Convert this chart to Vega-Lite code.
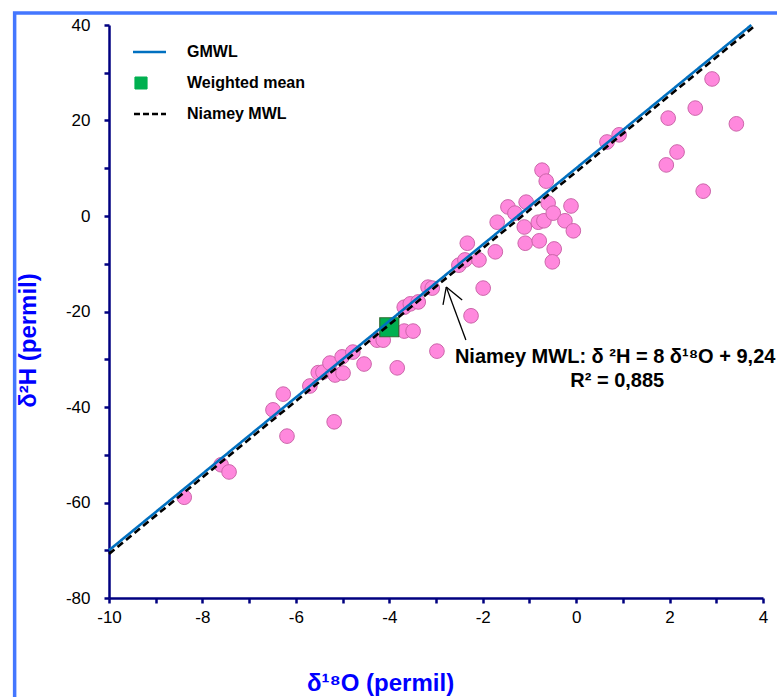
{
  "$schema": "https://vega.github.io/schema/vega-lite/v6.json",
  "width": 654,
  "height": 573,
  "autosize": {"type": "none"},
  "padding": {"left": 109, "top": 25, "right": 14, "bottom": 99},
  "background": "white",
  "config": {
    "view": {"stroke": null},
    "font": "Liberation Sans",
    "axis": {
      "grid": false,
      "domainColor": "#000080",
      "domainWidth": 2.5,
      "tickColor": "#000080",
      "tickWidth": 2.5,
      "tickSize": 5,
      "labelColor": "#000000",
      "labelFont": "Liberation Sans",
      "labelFontSize": 17,
      "labelFontWeight": "normal",
      "titleColor": "#0000FF",
      "titleFont": "Liberation Sans",
      "titleFontWeight": "bold",
      "titleFontSize": 24
    }
  },
  "datasets": {
    "samples": [
      {"d18O": -8.39, "d2H": -58.9},
      {"d18O": -7.60, "d2H": -52.1},
      {"d18O": -7.43, "d2H": -53.6},
      {"d18O": -6.49, "d2H": -40.6},
      {"d18O": -6.27, "d2H": -37.3},
      {"d18O": -6.19, "d2H": -46.1},
      {"d18O": -5.18, "d2H": -43.1},
      {"d18O": -5.70, "d2H": -35.6},
      {"d18O": -5.52, "d2H": -32.8},
      {"d18O": -5.42, "d2H": -32.7},
      {"d18O": -5.27, "d2H": -30.8},
      {"d18O": -5.16, "d2H": -33.3},
      {"d18O": -4.99, "d2H": -32.9},
      {"d18O": -5.01, "d2H": -29.5},
      {"d18O": -4.78, "d2H": -28.5},
      {"d18O": -4.54, "d2H": -31.0},
      {"d18O": -4.26, "d2H": -26.0},
      {"d18O": -4.13, "d2H": -26.0},
      {"d18O": -3.83, "d2H": -31.8},
      {"d18O": -3.68, "d2H": -24.1},
      {"d18O": -3.49, "d2H": -24.1},
      {"d18O": -3.68, "d2H": -19.1},
      {"d18O": -3.55, "d2H": -18.4},
      {"d18O": -3.38, "d2H": -18.0},
      {"d18O": -3.17, "d2H": -14.9},
      {"d18O": -3.08, "d2H": -15.1},
      {"d18O": -2.98, "d2H": -28.3},
      {"d18O": -2.51, "d2H": -10.3},
      {"d18O": -2.38, "d2H": -9.2},
      {"d18O": -2.33, "d2H": -5.7},
      {"d18O": -2.08, "d2H": -9.2},
      {"d18O": -1.99, "d2H": -15.1},
      {"d18O": -2.25, "d2H": -20.9},
      {"d18O": -1.73, "d2H": -7.5},
      {"d18O": -1.69, "d2H": -1.3},
      {"d18O": -1.46, "d2H": 1.9},
      {"d18O": -1.31, "d2H": 0.6},
      {"d18O": -1.07, "d2H": 2.9},
      {"d18O": -1.11, "d2H": -2.3},
      {"d18O": -1.09, "d2H": -5.7},
      {"d18O": -0.81, "d2H": -1.3},
      {"d18O": -0.69, "d2H": -1.0},
      {"d18O": -0.79, "d2H": -5.2},
      {"d18O": -0.73, "d2H": 9.6},
      {"d18O": -0.64, "d2H": 7.3},
      {"d18O": -0.60, "d2H": 2.7},
      {"d18O": -0.49, "d2H": 0.6},
      {"d18O": -0.47, "d2H": -6.9},
      {"d18O": -0.51, "d2H": -9.6},
      {"d18O": -0.24, "d2H": -1.0},
      {"d18O": -0.11, "d2H": 2.1},
      {"d18O": -0.06, "d2H": -3.1},
      {"d18O": 0.66, "d2H": 15.5},
      {"d18O": 0.92, "d2H": 17.0},
      {"d18O": 1.97, "d2H": 20.5},
      {"d18O": 2.55, "d2H": 22.6},
      {"d18O": 2.91, "d2H": 28.7},
      {"d18O": 3.43, "d2H": 19.3},
      {"d18O": 2.16, "d2H": 13.4},
      {"d18O": 1.93, "d2H": 10.7},
      {"d18O": 2.72, "d2H": 5.2}
    ],
    "mean": [
      {"series": "Weighted mean", "d18O": -4.0, "d2H": -23.3}
    ],
    "lines": [
      {"series": "GMWL", "d18O": -10, "d2H": -70},
      {"series": "GMWL", "d18O": 3.75, "d2H": 40},
      {"series": "Niamey MWL", "d18O": -10, "d2H": -70.76},
      {"series": "Niamey MWL", "d18O": 3.845, "d2H": 40}
    ],
    "one": [{}]
  },
  "layer": [
    {
      "data": {"name": "one"},
      "mark": {"type": "rect", "fill": null, "stroke": "#4477FF", "strokeWidth": 3.5, "clip": false},
      "encoding": {
        "x": {"datum": -12.02, "type": "quantitative"},
        "x2": {"datum": 9},
        "y": {"datum": 42.5, "type": "quantitative"},
        "y2": {"datum": -130}
      }
    },
    {
      "data": {"name": "samples"},
      "mark": {"type": "circle", "size": 215, "fill": "#FF88DD", "stroke": "#CC66AA", "strokeWidth": 1, "opacity": 1},
      "encoding": {
        "x": {
          "field": "d18O", "type": "quantitative",
          "scale": {"domain": [-10, 4], "nice": false, "zero": false},
          "axis": {
            "title": "δ¹⁸O (permil)",
            "values": [-10, -9, -8, -7, -6, -5, -4, -3, -2, -1, 0, 1, 2, 3, 4],
            "labelExpr": "datum.value % 2 === 0 ? '' + datum.value : ''",
            "labelFlush": false,
            "labelOverlap": false,
            "labelPadding": 6,
            "titleX": 271,
            "titleY": 85,
            "titleBaseline": "middle"
          }
        },
        "y": {
          "field": "d2H", "type": "quantitative",
          "scale": {"domain": [-80, 40], "nice": false, "zero": false},
          "axis": {
            "title": "δ²H (permil)",
            "values": [-80, -70, -60, -50, -40, -30, -20, -10, 0, 10, 20, 30, 40],
            "labelExpr": "datum.value % 20 === 0 ? '' + datum.value : ''",
            "labelOverlap": false,
            "labelFlush": false,
            "labelPadding": 14,
            "titleX": -81,
            "titleY": 315,
            "titleBaseline": "middle"
          }
        }
      }
    },
    {
      "data": {"name": "mean"},
      "mark": {"type": "square", "size": 360, "filled": true, "stroke": "#2E6B30", "strokeWidth": 1.2, "opacity": 1},
      "encoding": {
        "x": {"field": "d18O", "type": "quantitative"},
        "y": {"field": "d2H", "type": "quantitative"},
        "color": {"field": "series", "type": "nominal"}
      }
    },
    {
      "data": {"name": "lines"},
      "mark": {"type": "line", "strokeWidth": 2.6},
      "encoding": {
        "x": {"field": "d18O", "type": "quantitative"},
        "y": {"field": "d2H", "type": "quantitative"},
        "color": {
          "field": "series", "type": "nominal",
          "scale": {"domain": ["GMWL", "Weighted mean", "Niamey MWL"], "range": ["#0070C0", "#00B050", "#000000"]},
          "legend": {
            "title": null,
            "orient": "none",
            "legendX": 24,
            "legendY": 17,
            "padding": 0,
            "symbolType": "stroke",
            "symbolSize": 2500,
            "symbolStrokeWidth": 2.6,
            "clipHeight": 20,
            "rowPadding": 11,
            "labelOffset": 38,
            "labelFont": "Liberation Sans",
            "labelFontSize": 16,
            "labelFontWeight": "bold",
            "labelColor": "#000000",
            "labelLimit": 300,
            "encode": {
              "symbols": {
                "update": {
                  "shape": {"signal": "datum.value === 'Weighted mean' ? 'square' : 'stroke'"},
                  "size": {"signal": "datum.value === 'Weighted mean' ? 144 : 2500"},
                  "fill": {"signal": "datum.value === 'Weighted mean' ? '#00B050' : 'transparent'"},
                  "stroke": {"signal": "datum.value === 'Weighted mean' ? '#2E6B30' : (datum.value === 'GMWL' ? '#0070C0' : '#000000')"},
                  "strokeWidth": {"signal": "datum.value === 'Weighted mean' ? 1.2 : 2.6"},
                  "strokeDash": {"signal": "datum.value === 'Niamey MWL' ? [6, 3] : [1, 0]"},
                  "opacity": {"value": 1}
                }
              }
            }
          }
        },
        "strokeDash": {
          "field": "series", "type": "nominal",
          "scale": {"domain": ["GMWL", "Niamey MWL"], "range": [[1, 0], [7, 4]]},
          "legend": null
        }
      }
    },
    {
      "data": {"name": "one"},
      "mark": {"type": "rule", "color": "#000000", "strokeWidth": 1.3},
      "encoding": {
        "x": {"datum": -2.36, "type": "quantitative"},
        "y": {"datum": -25.97, "type": "quantitative"},
        "x2": {"datum": -2.78},
        "y2": {"datum": -14.87}
      }
    },
    {
      "data": {"name": "one"},
      "mark": {"type": "rule", "color": "#000000", "strokeWidth": 1.3},
      "encoding": {
        "x": {"datum": -2.85, "type": "quantitative"},
        "y": {"datum": -18.6, "type": "quantitative"},
        "x2": {"datum": -2.78},
        "y2": {"datum": -14.87}
      }
    },
    {
      "data": {"name": "one"},
      "mark": {"type": "rule", "color": "#000000", "strokeWidth": 1.3},
      "encoding": {
        "x": {"datum": -2.44, "type": "quantitative"},
        "y": {"datum": -17.6, "type": "quantitative"},
        "x2": {"datum": -2.78},
        "y2": {"datum": -14.87}
      }
    },
    {
      "data": {"name": "one"},
      "mark": {"type": "text", "text": "Niamey MWL: δ ²H = 8 δ¹⁸O + 9,24", "font": "Liberation Sans", "fontWeight": "bold", "fontSize": 20, "color": "#000000", "align": "center", "baseline": "middle"},
      "encoding": {
        "x": {"datum": 0.835, "type": "quantitative"},
        "y": {"datum": -29.5, "type": "quantitative"}
      }
    },
    {
      "data": {"name": "one"},
      "mark": {"type": "text", "text": "R² = 0,885", "font": "Liberation Sans", "fontWeight": "bold", "fontSize": 20, "color": "#000000", "align": "center", "baseline": "middle"},
      "encoding": {
        "x": {"datum": 0.88, "type": "quantitative"},
        "y": {"datum": -34.55, "type": "quantitative"}
      }
    }
  ]
}
